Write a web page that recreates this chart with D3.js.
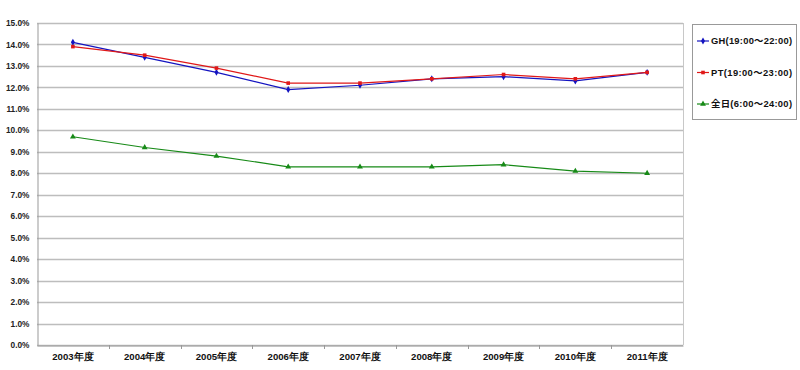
<!DOCTYPE html>
<html>
<head>
<meta charset="utf-8">
<script src="https://cdn.jsdelivr.net/npm/d3@7"></script>
<style>
  html, body { margin: 0; padding: 0; background: #fff; }
  svg { display: block; font-family: "Liberation Sans", "Noto Sans CJK JP", sans-serif; }
</style>
</head>
<body>
<div id="chart"></div>
<script>
// fiscal years on the x axis
const years = ['2003年度', '2004年度', '2005年度', '2006年度', '2007年度',
               '2008年度', '2009年度', '2010年度', '2011年度'];

// share (%) per series
const ghValues  = [14.1, 13.4, 12.7, 11.9, 12.1, 12.4, 12.5, 12.3, 12.7];
const ptValues  = [13.9, 13.5, 12.9, 12.2, 12.2, 12.4, 12.6, 12.4, 12.7];
const allValues = [9.7, 9.2, 8.8, 8.3, 8.3, 8.3, 8.4, 8.1, 8.0];

const seriesNames = ['GH(19:00～22:00)', 'PT(19:00～23:00)', '全日(6:00～24:00)'];
const yTicks = d3.range(0, 15.01, 1);

const W = 800, H = 370;
const margin = { top: 23, right: 117, bottom: 25, left: 37 };

const series = [
  { name: seriesNames[0], values: ghValues,  color: '#1414c0', symbol: d3.symbolDiamond,  size: 14 },
  { name: seriesNames[1], values: ptValues,  color: '#e01818', symbol: d3.symbolSquare,   size: 13 },
  { name: seriesNames[2], values: allValues, color: '#178a17', symbol: d3.symbolTriangle, size: 15 },
];

const svg = d3.select('#chart').append('svg')
  .attr('width', W).attr('height', H);

const x = d3.scaleBand()
  .domain(years)
  .range([margin.left, W - margin.right]);

const y = d3.scaleLinear()
  .domain([0, 15])
  .range([H - margin.bottom, margin.top]);

// ── gridlines ──
svg.append('g')
  .selectAll('line')
  .data(yTicks)
  .join('line')
    .attr('x1', margin.left).attr('x2', W - margin.right)
    .attr('y1', d => Math.round(y(d)) + 0.5).attr('y2', d => Math.round(y(d)) + 0.5)
    .attr('stroke', '#bdbdbd').attr('stroke-width', 1.6);

// plot area frame (right edge)
svg.append('line')
  .attr('x1', W - margin.right + 0.5).attr('x2', W - margin.right + 0.5)
  .attr('y1', margin.top).attr('y2', H - margin.bottom)
  .attr('stroke', '#c8c8c8');

// ── y axis ──
const yAxis = svg.append('g')
  .attr('transform', `translate(${margin.left + 0.5},0)`)
  .call(d3.axisLeft(y).tickValues(yTicks).tickSize(0).tickPadding(8)
    .tickFormat(d => d.toFixed(1) + '%'));
yAxis.select('.domain').attr('stroke', '#999');
yAxis.selectAll('text')
  .attr('font-size', 8.3).attr('fill', '#222').attr('font-weight', 'bold');

// ── x axis ──
const xAxis = svg.append('g')
  .attr('transform', `translate(0,${Math.round(y(0)) + 0.5})`)
  .call(d3.axisBottom(x).tickSize(0).tickPadding(8));
xAxis.select('.domain').attr('stroke', '#999');
xAxis.selectAll('text')
  .attr('font-size', 9.6).attr('fill', '#111').attr('font-weight', 'bold');

// band boundary ticks
svg.append('g')
  .selectAll('line')
  .data(years.slice(1))
  .join('line')
    .attr('x1', d => Math.round(x(d)) + 0.5).attr('x2', d => Math.round(x(d)) + 0.5)
    .attr('y1', Math.round(y(0))).attr('y2', Math.round(y(0)) + 4)
    .attr('stroke', '#999');

// ── lines + markers ──
const line = d3.line()
  .x((d, i) => x(years[i]) + x.bandwidth() / 2)
  .y(d => y(d));

series.forEach(s => {
  const g = svg.append('g');
  g.append('path')
    .attr('d', line(s.values))
    .attr('fill', 'none')
    .attr('stroke', s.color)
    .attr('stroke-width', 1.2);
  g.selectAll('path.pt')
    .data(s.values)
    .join('path')
      .attr('class', 'pt')
      .attr('transform', (d, i) => `translate(${x(years[i]) + x.bandwidth() / 2},${y(d)})`)
      .attr('d', d3.symbol(s.symbol, s.size))
      .attr('fill', s.color);
});

// ── legend ──
const lg = svg.append('g');
lg.append('rect')
  .attr('x', 692.5).attr('y', 24.5)
  .attr('width', 104).attr('height', 95)
  .attr('fill', '#fff').attr('stroke', '#999');

series.forEach((s, i) => {
  const ly = 41 + i * 31.5;
  lg.append('line')
    .attr('x1', 697).attr('x2', 709)
    .attr('y1', ly).attr('y2', ly)
    .attr('stroke', s.color).attr('stroke-width', 1.2);
  lg.append('path')
    .attr('transform', `translate(703,${ly})`)
    .attr('d', d3.symbol(s.symbol, s.size))
    .attr('fill', s.color);
  lg.append('text')
    .attr('x', 711).attr('y', ly).attr('dy', '0.35em')
    .attr('font-size', 9.4).attr('font-weight', 'bold').attr('fill', '#111')
    .attr('textLength', 81).attr('lengthAdjust', 'spacing')
    .text(s.name);
});
</script>
</body>
</html>
